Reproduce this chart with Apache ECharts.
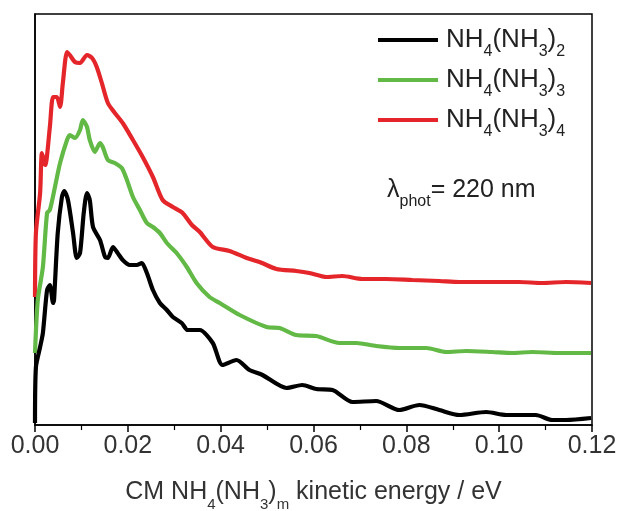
<!DOCTYPE html>
<html>
<head>
<meta charset="utf-8">
<script src="https://cdn.jsdelivr.net/npm/echarts@6/dist/echarts.min.js"></script>
<style>
html,body{margin:0;padding:0;background:#fff;}
#chart{width:619px;height:511px;}
</style>
</head>
<body>
<div id="chart"></div>
<script>
// x: CM kinetic energy (eV); y: intensity (arb. units)
const xTicks = ['0.00','0.02','0.04','0.06','0.08','0.10','0.12'];
const seriesNames = ['NH4(NH3)2','NH4(NH3)3','NH4(NH3)4'];
const seriesColors = ['#000000','#62b945','#e4262b'];

const black = [
[0,2],[0.0002,58],[0.0011,78],[0.0017,92],[0.0026,135],[0.0032,140],[0.0039,122],[0.0041,125],
[0.0049,192],[0.0058,228],[0.0063,234],[0.0071,225],[0.0082,192],[0.0090,167],[0.0097,172],
[0.0105,212],[0.0112,232],[0.0118,225],[0.0125,198],[0.0140,185],[0.0151,168],[0.0157,167],
[0.0168,178],[0.0178,172],[0.0189,165],[0.0204,160],[0.0219,160],[0.0230,162],[0.0241,152],
[0.0254,135],[0.0269,122],[0.0284,115],[0.0297,108],[0.0316,102],[0.0329,95],[0.0344,95],
[0.0355,95],[0.0383,82],[0.0404,60],[0.0434,65],[0.0462,55],[0.0490,50],[0.0542,37],[0.0576,40],
[0.0606,36],[0.0641,35],[0.0684,23],[0.0735,24],[0.0785,15],[0.0828,20],[0.0871,15],[0.0914,10],
[0.0972,13],[0.1015,10],[0.1043,10],[0.1079,10],[0.1114,5],[0.1144,5],[0.1198,7]
];
const green = [
[0,72],[0.0006,125],[0.0017,158],[0.0026,212],[0.0032,215],[0.0043,238],[0.0054,262],[0.0069,285],
[0.0075,290],[0.0086,287],[0.0097,295],[0.0103,305],[0.0112,298],[0.0118,285],[0.0129,273],
[0.0140,282],[0.0146,278],[0.0157,265],[0.0172,262],[0.0187,257],[0.0198,245],[0.0211,228],
[0.0226,215],[0.0241,202],[0.0254,198],[0.0269,192],[0.0284,182],[0.0305,172],[0.0327,158],
[0.0348,142],[0.0376,128],[0.0398,122],[0.0441,110],[0.0499,98],[0.0527,97],[0.0563,90],
[0.0606,89],[0.0656,82],[0.0692,82],[0.0735,79],[0.0785,77],[0.0843,77],[0.0886,73],[0.0929,74],
[0.0985,73],[0.1028,72],[0.1071,73],[0.1129,72],[0.1198,72]
];
const red = [
[0,128],[0.0002,192],[0.0011,232],[0.0015,272],[0.0022,260],[0.0032,298],[0.0039,328],[0.0047,328],
[0.0054,318],[0.0060,342],[0.0069,373],[0.0075,370],[0.0086,363],[0.0097,362],[0.0112,370],
[0.0123,367],[0.0133,358],[0.0144,342],[0.0157,322],[0.0172,312],[0.0189,302],[0.0211,285],
[0.0232,268],[0.0254,248],[0.0275,225],[0.0297,218],[0.0318,212],[0.0338,200],[0.0355,193],
[0.0383,178],[0.0419,174],[0.0456,167],[0.0484,163],[0.0520,156],[0.0563,154],[0.0591,152],
[0.0628,148],[0.0662,149],[0.0705,146],[0.0757,146],[0.0813,145],[0.0871,144],[0.0914,143],
[0.0957,143],[0.1000,143],[0.1043,143],[0.1092,142],[0.1144,143],[0.1198,142]
];
const seriesData = [black, green, red];

const FONT = 'Liberation Sans, Arial, sans-serif';
const chart = echarts.init(document.getElementById('chart'));

const legendRich = {
  n: {fontSize: 26, lineHeight: 26, verticalAlign: 'top', color: '#222', fontFamily: FONT},
  s: {fontSize: 16, lineHeight: 16, padding: [17,0,0,0], verticalAlign: 'top', color: '#222', fontFamily: FONT}
};
function chemRich(name) {
  const m = name.match(/^NH4\(NH3\)(\d)$/);
  return '{n|NH}{s|4}{n|(NH}{s|3}{n|)}{s|' + m[1] + '}';
}

chart.setOption({
  animation: false,
  backgroundColor: '#fff',
  grid: {left: 35, right: 27, top: 14, bottom: 86, containLabel: false, outerBoundsMode: 'none',
         show: true, borderColor: '#000', borderWidth: 1.5},
  legend: {
    data: seriesNames,
    orient: 'vertical',
    left: 378, top: 27, padding: 0,
    icon: 'rect', itemWidth: 60, itemHeight: 4, itemGap: 7,
    formatter: chemRich,
    textStyle: {rich: legendRich, padding: [0,0,0,3]}
  },
  xAxis: {
    type: 'value', min: 0, max: 0.12, interval: 0.02,
    axisLine: {show: true, onZero: false, lineStyle: {color: '#000', width: 1.5}},
    axisTick: {show: true, inside: false, length: 7, lineStyle: {color: '#000', width: 1.5}},
    minorTick: {show: true, splitNumber: 2, length: 5, lineStyle: {color: '#000', width: 1.2}},
    splitLine: {show: false},
    axisLabel: {
      margin: 9, fontSize: 25, color: '#333', fontFamily: FONT,
      formatter: function (v) { return xTicks[Math.round(v / 0.02)]; }
    },
    name: '{n|CM NH}{s|4}{n|(NH}{s|3}{n|)}{s|m}{n| kinetic energy / eV}',
    nameLocation: 'middle', nameGap: 55,
    nameTextStyle: {
      rich: {
        n: {fontSize: 25, lineHeight: 25, verticalAlign: 'top', color: '#333', fontFamily: FONT},
        s: {fontSize: 15, lineHeight: 15, padding: [17,0,0,0], verticalAlign: 'top', color: '#333', fontFamily: FONT}
      }
    }
  },
  yAxis: {
    type: 'value', min: 0, max: 411,
    axisLine: {show: true, lineStyle: {color: '#000', width: 1.5}},
    axisTick: {show: false}, axisLabel: {show: false}, splitLine: {show: false}
  },
  graphic: [{
    type: 'text', left: 387, top: 178,
    style: {
      text: '{l|λ}{s|phot}{n|= 220 nm}',
      rich: {
        l: {fontSize: 25, lineHeight: 25, verticalAlign: 'top', fill: '#222', fontFamily: FONT},
        n: {fontSize: 25, lineHeight: 25, verticalAlign: 'top', fill: '#222', fontFamily: FONT},
        s: {fontSize: 16, lineHeight: 16, padding: [16,0,0,0], verticalAlign: 'top', fill: '#222', fontFamily: FONT}
      }
    }
  }],
  series: seriesNames.map(function (name, i) {
    return {
      name: name, type: 'line', data: seriesData[i],
      showSymbol: false, smooth: 0.25,
      lineStyle: {color: seriesColors[i], width: 4.2},
      itemStyle: {color: seriesColors[i]},
      z: 3 - i
    };
  })
});
</script>
</body>
</html>
